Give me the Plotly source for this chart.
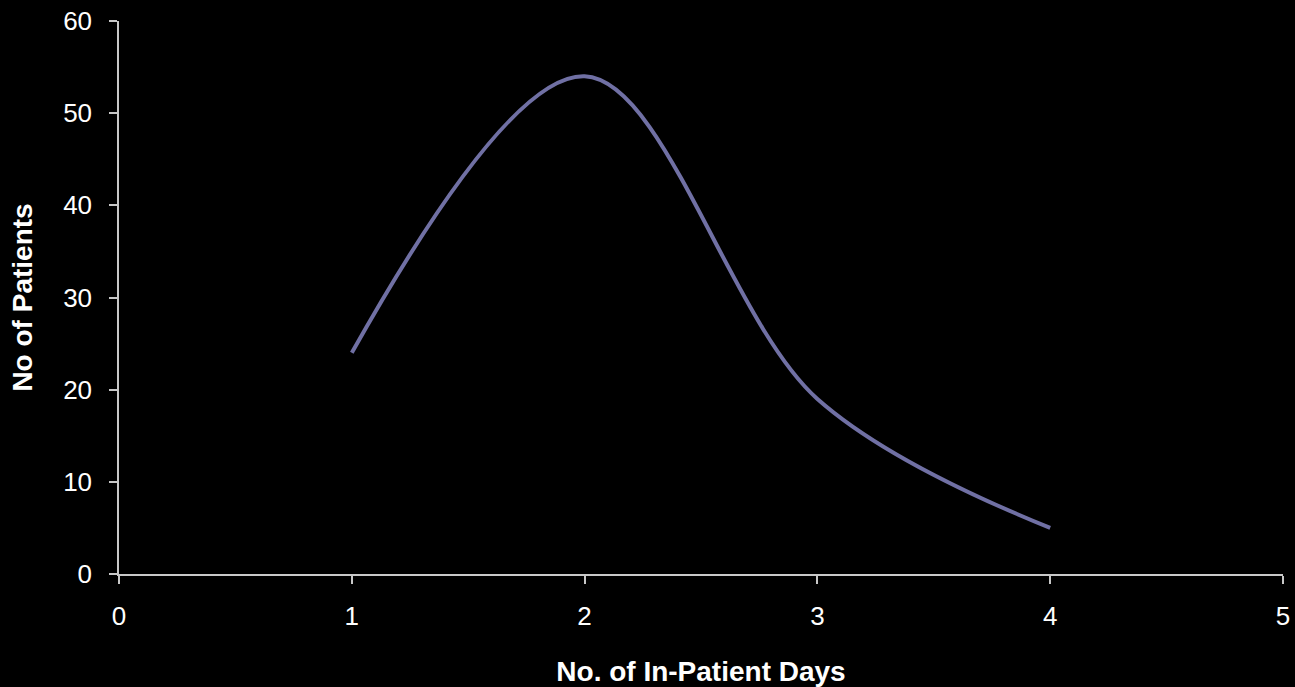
import plotly.graph_objects as go

days = [1, 2, 3, 4]
patients = [24, 54, 19, 5]
x_ticks = [0, 1, 2, 3, 4, 5]
y_ticks = [0, 10, 20, 30, 40, 50, 60]

fig = go.Figure()
fig.add_trace(go.Scatter(
    x=days, y=patients, mode="lines",
    line=dict(color="#7070a4", width=4, shape="spline", smoothing=1),
    showlegend=False, hoverinfo="skip",
))

font_family = "Liberation Sans, Arial, sans-serif"
fig.update_layout(
    width=1295, height=687,
    paper_bgcolor="black", plot_bgcolor="black",
    margin=dict(l=119, r=12, t=21, b=113, autoexpand=False),
    font=dict(family=font_family, color="white", size=26),
)
fig.update_xaxes(
    range=[0, 5], tickvals=x_ticks, ticktext=[str(v) for v in x_ticks],
    showgrid=False, zeroline=False, showline=True, linecolor="#c8c8c8", linewidth=1.5,
    ticks="outside", ticklen=8, tickcolor="#c8c8c8", tickwidth=1.5,
    tickfont=dict(size=26, color="white"), ticklabelstandoff=10, automargin=False,
    title=dict(text="<b>No. of In-Patient Days</b>", font=dict(size=28, color="white"), standoff=32),
)
fig.update_yaxes(
    range=[0, 60], tickvals=y_ticks, ticktext=[str(v) for v in y_ticks],
    showgrid=False, zeroline=False, showline=True, linecolor="#c8c8c8", linewidth=1.5,
    ticks="outside", ticklen=8, tickcolor="#c8c8c8", tickwidth=1.5,
    tickfont=dict(size=26, color="white"), ticklabelstandoff=12, automargin=False,
    title=dict(text="<b>No of Patients</b>", font=dict(size=28, color="white"), standoff=22),
)

fig.write_html("out.html")
